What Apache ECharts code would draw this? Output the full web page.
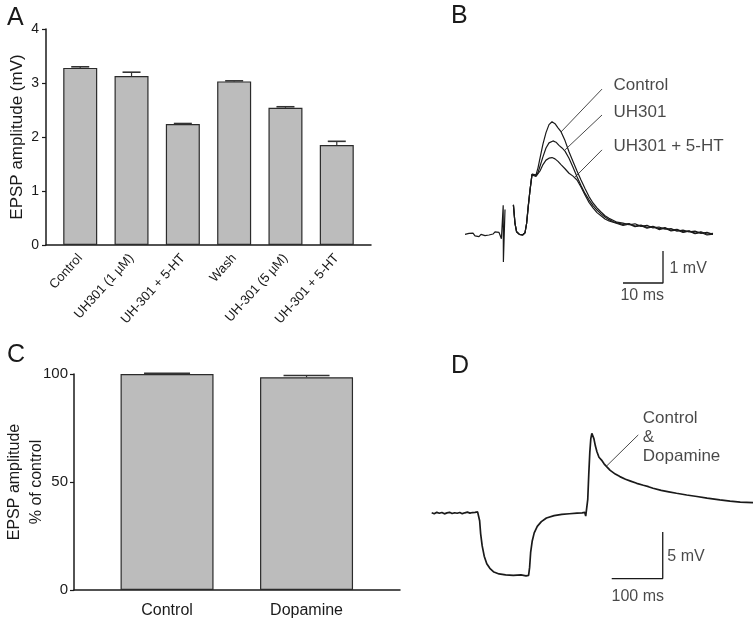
<!DOCTYPE html>
<html><head><meta charset="utf-8">
<script src="https://cdn.jsdelivr.net/npm/echarts@6/dist/echarts.min.js"></script>
<style>html,body{margin:0;padding:0;background:#fff}#c{width:756px;height:621px}</style>
</head><body><div id="c"></div>
<script>
// ---------- Panel A data ----------
const catsA = ['Control', 'UH301 (1 µM)', 'UH-301 + 5-HT', 'Wash', 'UH-301 (5 µM)', 'UH-301 + 5-HT'];
const meanA = [3.28, 3.13, 2.24, 3.03, 2.54, 1.85];
const errTopA = [3.30, 3.20, 2.25, 3.04, 2.56, 1.92];
const ticksA = [0, 1, 2, 3, 4];
// ---------- Panel C data ----------
const catsC = ['Control', 'Dopamine'];
const meanC = [100, 98.5];
const errTopC = [100.3, 99.3];
const ticksC = [0, 50, 100];
// ---------- Panel B traces (ms, mV) ----------
const traceBPre = [[0,0.02],[0.5,-0.04],[1,0.05],[1.5,0.0],[2,0.06],[2.5,-0.03],[3,0.03],[3.5,-0.05],[4,0.02],[4.5,0.07],[5,-0.02],[5.5,0.04],[6,0.0],[6.5,0.06],[7,0.03],[7.5,0.1],[8,0.05],[8.5,0.08],[8.75,0.0],[9.1,-0.12],[9.55,0.93],[9.6,-0.84],[9.95,-0.84],[10.0,0.8]];
const traceBStart = [[12.1,0.94],[12.5,0.36],[12.9,0.1],[13.6,0.02],[14.4,0.0],[15.0,0.07],[15.4,0.36],[15.8,0.88],[16.25,1.4]];
const traceBControl = [[16.75,1.9],[17.25,1.96],[17.75,1.88],[18.25,2.1],[18.75,2.4],[19.5,2.85],[20.25,3.2],[21,3.45],[21.75,3.54],[22.5,3.48],[23.25,3.35],[24,3.23],[25,2.95],[26,2.6],[27,2.3],[28,2.0],[29,1.72],[30,1.45],[31,1.2],[32,1.0],[33,0.85],[34,0.72],[35,0.6],[36,0.52],[37,0.46],[38,0.4],[39.5,0.37],[41,0.32],[42.5,0.35],[44,0.27],[45.5,0.3],[47,0.22],[48.5,0.25],[50,0.18],[51.5,0.2],[53,0.12],[54.5,0.15],[56,0.1],[57.5,0.12],[59,0.05],[60.5,0.08],[62,0.02]];
const traceBUH301 = [[16.75,1.9],[17.25,1.95],[17.75,1.85],[18.25,1.95],[18.75,2.15],[19.5,2.45],[20.25,2.72],[21,2.88],[22,2.94],[22.75,2.9],[23.5,2.8],[24.25,2.72],[25,2.62],[26,2.4],[27,2.12],[28,1.82],[29,1.55],[30,1.3],[31,1.1],[32,0.92],[33,0.78],[34,0.66],[35,0.56],[36,0.48],[37,0.42],[38,0.38],[39.5,0.33],[41,0.36],[42.5,0.28],[44,0.31],[45.5,0.24],[47,0.27],[48.5,0.2],[50,0.23],[51.5,0.15],[53,0.18],[54.5,0.1],[56,0.13],[57.5,0.06],[59,0.1],[60.5,0.03],[62,0.05]];
const traceB5HT = [[16.75,1.88],[17.25,1.93],[17.75,1.83],[18.25,1.88],[18.75,2.0],[19.5,2.2],[20.25,2.34],[21,2.4],[21.75,2.42],[22.5,2.38],[23.25,2.3],[24,2.2],[25,2.07],[26,1.93],[27,1.84],[28,1.72],[29,1.5],[30,1.25],[31,1.02],[32,0.85],[33,0.7],[34,0.6],[35,0.5],[36,0.44],[37,0.4],[38,0.36],[39.5,0.3],[41,0.34],[42.5,0.26],[44,0.29],[45.5,0.21],[47,0.26],[48.5,0.17],[50,0.21],[51.5,0.13],[53,0.16],[54.5,0.08],[56,0.12],[57.5,0.04],[59,0.08],[60.5,0.0],[62,0.03]];
const scaleBarB = [[39.5,-1.5],[49.5,-1.5],[49.5,-0.5]];
const leadersB = [[[34.25,4.56],[24,3.22]], [[34.25,3.75],[25,2.66]], [[34.25,2.66],[27.5,1.81]]];
const labelsB = [[37,4.69,'Control'],[37,3.84,'UH301'],[37,2.78,'UH301 + 5-HT']];
const scaleLabelsB = [[51,-1.05,'1 mV','left'],[44.3,-1.9,'10 ms','center']];
// ---------- Panel D trace (ms, mV) ----------
const traceD = [[0,0.05],[5,-0.05],[10,0.1],[15,0],[20,0.08],[25,-0.06],[30,0.04],[35,0.1],[40,-0.03],[45,0.06],[50,0],[55,0.09],[60,-0.04],[65,0.05],[70,0.12],[75,0.02],[80,0.08],[85,0.1],[90,0.15],[93,0.1],[94,-0.8],[96,-2.2],[99,-3.5],[103,-4.6],[108,-5.4],[114,-5.9],[122,-6.3],[132,-6.5],[145,-6.6],[160,-6.65],[175,-6.6],[185,-6.7],[190,-6.65],[192,-5.8],[194,-4.2],[197,-3.0],[201,-2.1],[207,-1.4],[215,-0.9],[225,-0.5],[240,-0.25],[255,-0.12],[270,-0.05],[285,0.02],[295,0.05],[300,0.1],[302,-0.3],[304,-0.5],[306,1.5],[308,4.2],[310,6.5],[312,8.0],[314,8.57],[316,8.5],[318,8.0],[321,7.2],[324,6.6],[328,6.0],[333,5.7],[338,5.3],[343,5.0],[350,4.6],[360,4.2],[369,3.93],[380,3.65],[390,3.45],[402,3.21],[415,3.0],[425,2.85],[434,2.68],[450,2.45],[465,2.3],[480,2.15],[500,1.96],[520,1.8],[540,1.62],[565,1.43],[585,1.3],[605,1.2],[630,1.14]];
const scaleBarD = [[353,-7],[453,-7],[453,-2]];
const leaderD = [[343,5.07],[405,8.4]];
const labelsD = [[413,8.15,'Control\n&\nDopamine']];
const scaleLabelsD = [[461,-4.6,'5 mV','left'],[404,-8.9,'100 ms','center']];

const FONT = '"Liberation Sans", Arial, Helvetica, sans-serif';
const INK = '#1a1a1a';

function errRender(capPx) {
  return function (params, api) {
    const p0 = api.coord([api.value(0), api.value(1)]);
    const p1 = api.coord([api.value(0), api.value(2)]);
    return { type: 'group', children: [
      { type: 'line', shape: { x1: p0[0], y1: p0[1], x2: p1[0], y2: p1[1] }, style: { stroke: '#333', lineWidth: 1.2 } },
      { type: 'line', shape: { x1: p1[0] - capPx / 2, y1: p1[1], x2: p1[0] + capPx / 2, y2: p1[1] }, style: { stroke: '#333', lineWidth: 1.6 } }
    ]};
  };
}
function lineS(xi, data, w) {
  return { type: 'line', xAxisIndex: xi, yAxisIndex: xi, data: data, showSymbol: false, symbol: 'none',
    lineStyle: { color: INK, width: w }, silent: true, clip: false, animation: false, z: 3 };
}
function textS(xi, items, fs, lh) {
  return { type: 'scatter', xAxisIndex: xi, yAxisIndex: xi, symbolSize: 1, silent: true, animation: false, clip: false,
    itemStyle: { color: 'rgba(0,0,0,0)' },
    data: items.map(d => ({ value: [d[0], d[1]], label: { show: true, formatter: d[2],
      position: d[3] === 'center' ? 'inside' : 'right', distance: 0, align: d[3] === 'center' ? 'center' : 'left',
      color: INK, fontSize: fs, fontFamily: FONT, lineHeight: lh || fs + 2 } })) };
}
const hiddenAxis = (gi, min, max) => ({ type: 'value', gridIndex: gi, min: min, max: max, show: false });

const chart = echarts.init(document.getElementById('c'), null, { renderer: 'canvas' });
const option = {
  animation: false,
  backgroundColor: '#fff',
  textStyle: { fontFamily: FONT },
  grid: [
    { left: 46, top: 29, width: 325, height: 216, outerBoundsMode: 'none', containLabel: false },          // A
    { left: 465, top: 43, width: 250, height: 256, outerBoundsMode: 'none', containLabel: false },         // B
    { left: 74, top: 374, width: 326, height: 216, outerBoundsMode: 'none', containLabel: false },         // C
    { left: 431.7, top: 401.3, width: 326.4, height: 205.3, outerBoundsMode: 'none', containLabel: false } // D
  ],
  xAxis: [
    { type: 'value', gridIndex: 0, min: -0.667, max: catsA.length - 1 + 0.667,
      axisLine: { show: true, onZero: false, lineStyle: { color: INK, width: 1.5 } }, axisTick: { show: false }, splitLine: { show: false },
      axisLabel: { customValues: catsA.map((c, i) => i), formatter: v => catsA[Math.round(v)], rotate: 48, fontSize: 13, color: INK, margin: 11, fontFamily: FONT } },
    hiddenAxis(1, 0, 62.5),
    { type: 'value', gridIndex: 2, min: -0.667, max: catsC.length - 1 + 0.67,
      axisLine: { show: true, onZero: false, lineStyle: { color: INK, width: 1.5 } }, axisTick: { show: false }, splitLine: { show: false },
      axisLabel: { customValues: catsC.map((c, i) => i), formatter: v => catsC[Math.round(v)], fontSize: 16, color: INK, margin: 13, fontFamily: FONT } },
    hiddenAxis(3, 0, 640)
  ],
  yAxis: [
    { type: 'value', gridIndex: 0, min: ticksA[0], max: ticksA[ticksA.length - 1], interval: 1,
      name: 'EPSP amplitude (mV)', nameLocation: 'middle', nameGap: 20, nameTextStyle: { fontSize: 17, color: INK, fontFamily: FONT },
      axisLine: { show: true, onZero: false, lineStyle: { color: INK, width: 1.5 } }, axisTick: { show: true, length: 4, lineStyle: { color: INK, width: 1.2 } },
      splitLine: { show: false }, axisLabel: { fontSize: 14, color: INK, margin: 7, fontFamily: FONT } },
    hiddenAxis(1, -2, 6),
    { type: 'value', gridIndex: 2, min: ticksC[0], max: ticksC[ticksC.length - 1], interval: 50,
      name: 'EPSP amplitude\n% of control', nameLocation: 'middle', nameGap: 26, nameMoveOverlap: false,
      nameTextStyle: { fontSize: 16, color: INK, lineHeight: 22, fontFamily: FONT },
      axisLine: { show: true, onZero: false, lineStyle: { color: INK, width: 1.5 } }, axisTick: { show: true, length: 4, lineStyle: { color: INK, width: 1.2 } },
      splitLine: { show: false }, axisLabel: { fontSize: 15, color: INK, margin: 6, fontFamily: FONT } },
    hiddenAxis(3, -10, 12)
  ],
  series: [
    { type: 'bar', xAxisIndex: 0, yAxisIndex: 0, barWidth: 34, data: meanA.map((v, i) => [i, v]),
      itemStyle: { color: '#bcbcbc', borderColor: '#2b2b2b', borderWidth: 1.2 }, silent: true },
    { type: 'custom', xAxisIndex: 0, yAxisIndex: 0, renderItem: errRender(18), data: meanA.map((v, i) => [i, v, errTopA[i]]), z: 5, silent: true },
    { type: 'bar', xAxisIndex: 2, yAxisIndex: 2, barWidth: 93, data: meanC.map((v, i) => [i, v]),
      itemStyle: { color: '#bcbcbc', borderColor: '#2b2b2b', borderWidth: 1.2 }, silent: true },
    { type: 'custom', xAxisIndex: 2, yAxisIndex: 2, renderItem: errRender(46), data: meanC.map((v, i) => [i, v, errTopC[i]]), z: 5, silent: true },
    // Panel B
    lineS(1, traceBPre, 1.2),
    lineS(1, traceBStart.concat(traceBControl), 1.2),
    lineS(1, traceBStart.concat(traceBUH301), 1.2),
    lineS(1, traceBStart.concat(traceB5HT), 1.2),
    lineS(1, scaleBarB, 1.3),
    lineS(1, leadersB[0], 0.8),
    lineS(1, leadersB[1], 0.8),
    lineS(1, leadersB[2], 0.8),
    textS(1, labelsB.map(d => [d[0], d[1], d[2], 'left']), 17),
    textS(1, scaleLabelsB, 16),
    // Panel D
    lineS(3, traceD, 1.7),
    lineS(3, scaleBarD, 1.3),
    lineS(3, leaderD, 0.8),
    textS(3, labelsD.map(d => [d[0], d[1], d[2], 'left']), 17, 19),
    textS(3, scaleLabelsD, 16)
  ],
  graphic: [
    { type: 'text', left: 7, top: 6, style: { text: 'A', fontSize: 25, fill: INK, fontFamily: FONT } },
    { type: 'text', left: 451, top: 4, style: { text: 'B', fontSize: 25, fill: INK, fontFamily: FONT } },
    { type: 'text', left: 7, top: 343, style: { text: 'C', fontSize: 25, fill: INK, fontFamily: FONT } },
    { type: 'text', left: 451, top: 354, style: { text: 'D', fontSize: 25, fill: INK, fontFamily: FONT } }
  ]
};
chart.setOption(option);
</script></body></html>
